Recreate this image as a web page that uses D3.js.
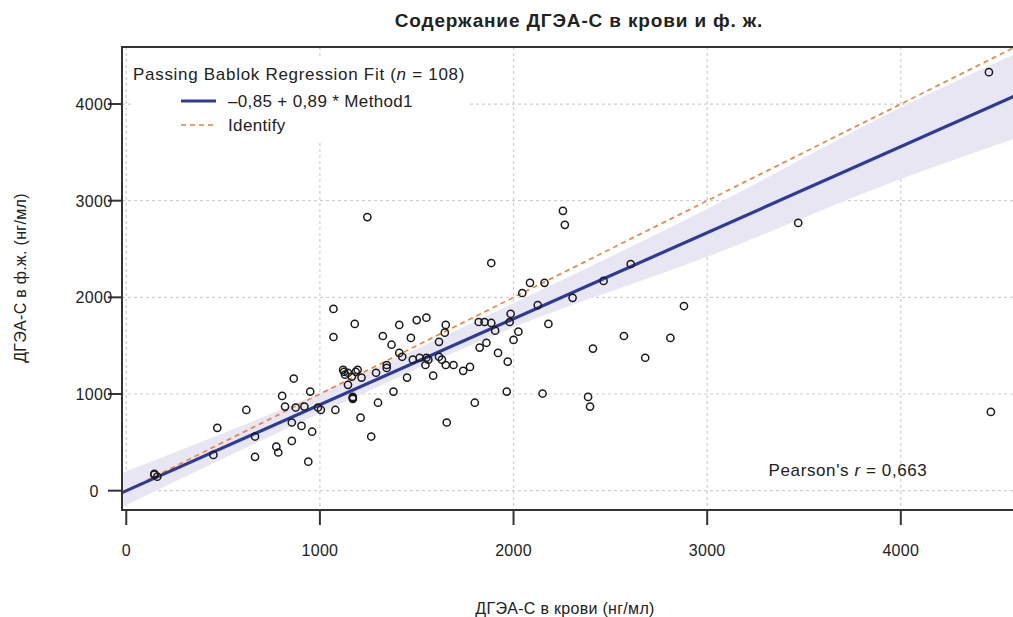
<!DOCTYPE html>
<html>
<head>
<meta charset="utf-8">
<script src="https://cdn.jsdelivr.net/npm/d3@7"></script>
<style>
  body { margin: 0; background: #fff; }
  svg text { font-family: "Liberation Sans", Arial, Helvetica, sans-serif; fill: #222; }
</style>
</head>
<body>
<div id="chart"></div>
<script>
// blood (x) vs follicular fluid (y), ng/ml
const bloodVals = [145, 160, 470, 450, 620, 665, 665, 775, 785, 805, 820, 865, 855, 855, 875, 905, 920, 940, 950, 960,
  990, 1005, 1070, 1180, 1070, 1080, 1120, 1145, 1195, 1130, 1165, 1215, 1145, 1170, 1170, 1210, 1265, 1290, 1300, 1325,
  1345, 1345, 1370, 1380, 1410, 1410, 1425, 1450, 1470, 1480, 1500, 1515, 1550, 1550, 1545, 1585, 1615, 1615, 1630, 1645,
  1650, 1650, 1655, 1690, 1740, 1775, 1800, 1820, 1850, 1885, 1905, 1825, 1860, 1920, 1970, 1965, 1985, 1980, 2025, 2000,
  2045, 2085, 2160, 2125, 2180, 2150, 2255, 2265, 2305, 2385, 2395, 2410, 2465, 2570, 2605, 2680, 2810, 2880, 3470, 4455,
  4465, 1245, 1885, 1125, 1185, 1560, 1170, 145];
const fluidVals = [175, 145, 650, 370, 835, 560, 350, 455, 395, 980, 870, 1160, 705, 515, 860, 670, 870, 300, 1025, 610,
  860, 835, 1880, 1725, 1590, 835, 1250, 1220, 1250, 1200, 1180, 1170, 1095, 970, 950, 755, 560, 1220, 910, 1600,
  1300, 1270, 1510, 1025, 1715, 1425, 1385, 1170, 1580, 1355, 1765, 1375, 1790, 1375, 1300, 1190, 1540, 1385, 1355, 1635,
  1715, 1300, 705, 1300, 1240, 1280, 910, 1745, 1745, 1735, 1655, 1480, 1530, 1425, 1335, 1025, 1830, 1745, 1645, 1560,
  2045, 2150, 2150, 1920, 1725, 1005, 2895, 2750, 1995, 970, 870, 1470, 2170, 1600, 2345, 1375, 1580, 1910, 2770, 4330,
  815, 2830, 2355, 1230, 1230, 1355, 960, 165];

const intercept = -0.85;
const slope = 0.89;
// confidence band
const bandX = [-22, 1000, 2000, 3000, 4000, 4600];
const bandLo = [-170, 800, 1690, 2420, 3225, 3650];
const bandHi = [185, 1010, 1940, 2915, 3965, 4530];

const tickVals = [0, 1000, 2000, 3000, 4000];
const xDomain = [-22, 4600];
const yDomain = [-200, 4590];

const width = 1013;
const height = 617;
const box = { left: 122, right: 1017, top: 47, bottom: 510 };

const svg = d3.select("#chart").append("svg")
  .attr("width", width)
  .attr("height", height);

const x = d3.scaleLinear().domain(xDomain).range([box.left, box.right]);
const y = d3.scaleLinear().domain(yDomain).range([box.bottom, box.top]);

svg.append("clipPath").attr("id", "plotClip")
  .append("rect")
  .attr("x", box.left).attr("y", box.top)
  .attr("width", box.right - box.left).attr("height", box.bottom - box.top);

//--------------------------------------------------------------- grid
const grid = svg.append("g");
grid.selectAll(".gx").data(tickVals).enter().append("line")
  .attr("x1", d => x(d)).attr("x2", d => x(d))
  .attr("y1", box.top).attr("y2", box.bottom)
  .attr("stroke", "#cfcfcf").attr("stroke-width", 1.2).attr("stroke-dasharray", "3,3");
grid.selectAll(".gy").data(tickVals).enter().append("line")
  .attr("y1", d => y(d)).attr("y2", d => y(d))
  .attr("x1", box.left).attr("x2", box.right)
  .attr("stroke", "#cfcfcf").attr("stroke-width", 1.2).attr("stroke-dasharray", "3,3");

//--------------------------------------------------------------- band + lines
const plot = svg.append("g").attr("clip-path", "url(#plotClip)");

const band = d3.area()
  .curve(d3.curveMonotoneX)
  .x((d, i) => x(bandX[i]))
  .y0((d, i) => y(bandLo[i]))
  .y1((d, i) => y(bandHi[i]));
plot.append("path")
  .datum(bandX)
  .attr("d", band)
  .attr("fill", "#e8e6f2");

plot.append("line")
  .attr("x1", x(xDomain[0])).attr("y1", y(xDomain[0]))
  .attr("x2", x(xDomain[1])).attr("y2", y(xDomain[1]))
  .attr("stroke", "#ef7d3c").attr("stroke-width", 1.6).attr("stroke-dasharray", "5,4");

plot.append("line")
  .attr("x1", x(xDomain[0])).attr("y1", y(intercept + slope * xDomain[0]))
  .attr("x2", x(xDomain[1])).attr("y2", y(intercept + slope * xDomain[1]))
  .attr("stroke", "#2d3a9c").attr("stroke-width", 3.2);

//--------------------------------------------------------------- points
plot.selectAll("circle")
  .data(bloodVals)
  .enter().append("circle")
  .attr("cx", d => x(d))
  .attr("cy", (d, i) => y(fluidVals[i]))
  .attr("r", 3.6)
  .attr("fill", "none")
  .attr("stroke", "#1a1a1a")
  .attr("stroke-width", 1.5);

//--------------------------------------------------------------- box + axes
svg.append("path")
  .attr("d", `M${box.right},${box.top}H${box.left}V${box.bottom}H${box.right}`)
  .attr("fill", "none").attr("stroke", "#333").attr("stroke-width", 2);

const xAxis = svg.append("g").attr("transform", `translate(0,${box.bottom})`);
xAxis.selectAll("line").data(tickVals).enter().append("line")
  .attr("x1", d => x(d)).attr("x2", d => x(d))
  .attr("y1", 0).attr("y2", 15)
  .attr("stroke", "#333").attr("stroke-width", 2);
xAxis.selectAll("text").data(tickVals).enter().append("text")
  .attr("x", d => x(d)).attr("y", 46)
  .attr("text-anchor", "middle")
  .style("font-size", "16px").style("letter-spacing", "0.3px")
  .text(d => d);

const yAxis = svg.append("g").attr("transform", `translate(${box.left},0)`);
yAxis.selectAll("line").data(tickVals).enter().append("line")
  .attr("y1", d => y(d)).attr("y2", d => y(d))
  .attr("x1", 0).attr("x2", -14)
  .attr("stroke", "#333").attr("stroke-width", 2);
yAxis.selectAll("text").data(tickVals).enter().append("text")
  .attr("x", -28).attr("y", d => y(d) + 6)
  .attr("text-anchor", "middle")
  .style("font-size", "16px").style("letter-spacing", "0.3px")
  .text(d => d);

//--------------------------------------------------------------- legend
const leg = svg.append("g");
leg.append("rect")
  .attr("x", 131).attr("y", 56).attr("width", 338).attr("height", 84)
  .attr("fill", "#fff");
const legTitle = leg.append("text").attr("x", 133).attr("y", 80)
  .style("font-size", "17px").style("letter-spacing", "0.7px");
legTitle.append("tspan").text("Passing Bablok Regression Fit (");
legTitle.append("tspan").style("font-style", "italic").text("n");
legTitle.append("tspan").text(" = 108)");

leg.append("line").attr("x1", 181).attr("x2", 216).attr("y1", 101).attr("y2", 101)
  .attr("stroke", "#2d3a9c").attr("stroke-width", 3.2);
leg.append("text").attr("x", 228).attr("y", 107)
  .style("font-size", "17px").style("letter-spacing", "0.35px")
  .text("\u20130,85 + 0,89 * Method1");
leg.append("line").attr("x1", 181).attr("x2", 216).attr("y1", 125).attr("y2", 125)
  .attr("stroke", "#ef7d3c").attr("stroke-width", 1.6).attr("stroke-dasharray", "5,4");
leg.append("text").attr("x", 228).attr("y", 131)
  .style("font-size", "17px").style("letter-spacing", "0.35px")
  .text("Identify");

const pearson = svg.append("text").attr("x", 848).attr("y", 476)
  .attr("text-anchor", "middle")
  .style("font-size", "17px").style("letter-spacing", "0.6px");
pearson.append("tspan").text("Pearson's ");
pearson.append("tspan").style("font-style", "italic").text("r");
pearson.append("tspan").text(" = 0,663");

//--------------------------------------------------------------- titles
svg.append("text")
  .attr("x", 579).attr("y", 27)
  .attr("text-anchor", "middle")
  .style("font-size", "19px").style("font-weight", "bold").style("letter-spacing", "0.85px")
  .text("Содержание ДГЭА-С в крови и ф. ж.");

svg.append("text")
  .attr("x", 565).attr("y", 614)
  .attr("text-anchor", "middle")
  .style("font-size", "16px").style("letter-spacing", "0.3px")
  .text("ДГЭА-С в крови (нг/мл)");

svg.append("text")
  .attr("transform", "translate(26,278) rotate(-90)")
  .attr("text-anchor", "middle")
  .style("font-size", "16px").style("letter-spacing", "0.3px")
  .text("ДГЭА-С в ф.ж. (нг/мл)");
</script>
</body>
</html>
